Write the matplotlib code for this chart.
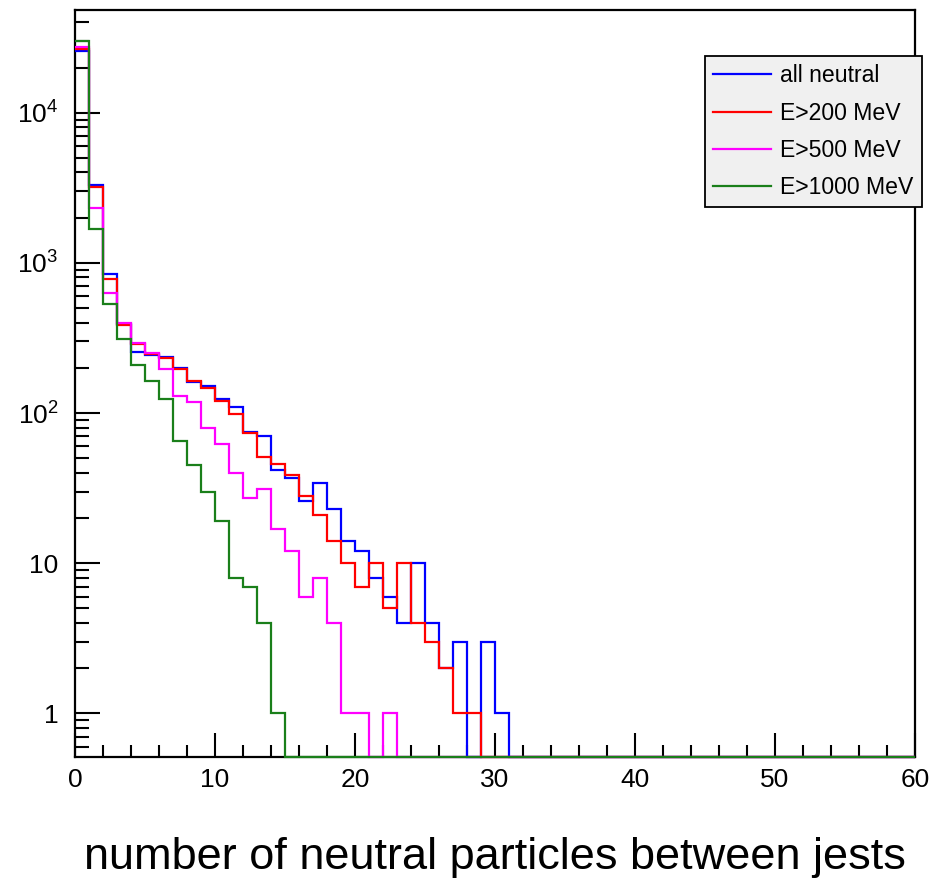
import numpy as np
import matplotlib
matplotlib.use("Agg")
import matplotlib.pyplot as plt
from matplotlib.ticker import FixedLocator, LogLocator, NullFormatter, FixedFormatter

plt.rcParams['font.family'] = ['Liberation Sans', 'DejaVu Sans']
plt.rcParams['mathtext.fontset'] = 'custom'
plt.rcParams['mathtext.rm'] = 'Liberation Sans'
plt.rcParams['mathtext.it'] = 'Liberation Sans:italic'

# ---- data: counts per unit bin, starting at 0 (bins beyond listed are empty)
n_bins = 60
bin_edges = np.arange(0, n_bins + 1)

all_neutral = [25800, 3320, 840, 392, 256, 243, 236, 200, 160, 151,
               124, 110, 75, 70, 42, 37, 26, 34, 23, 14,
               12, 8, 6, 4, 10, 4, 2, 3, 0, 3, 1]
e_gt_200 = [26700, 3215, 778, 388, 288, 248, 232, 196, 164, 146,
            121, 99, 74, 51, 46, 39, 28, 21, 14, 10,
            7, 10, 5, 10, 4, 3, 2, 1, 1]
e_gt_500 = [27500, 2320, 628, 396, 292, 252, 197, 129, 119, 80,
            62, 40, 27, 31, 17, 12, 6, 8, 4, 1,
            1, 0, 1]
e_gt_1000 = [30000, 1683, 533, 311, 209, 164, 124, 65, 45, 30,
             19, 8, 7, 4, 1]

series_labels = ["all neutral", "E>200 MeV", "E>500 MeV", "E>1000 MeV"]
series_colors = ["#0000ff", "#ff0000", "#ff00ff", "#1a7f1a"]
x_tick_values = [0, 10, 20, 30, 40, 50, 60]
y_tick_values = [1, 10, 100, 1000, 10000]
y_tick_labels = ["1", "10", r"$10^{2}$", r"$10^{3}$", r"$10^{4}$"]
x_title = "number of neutral particles between jests"

ymin, ymax = 0.513, 48300

fig = plt.figure(figsize=(9.44, 8.80), dpi=100)
ax = fig.add_axes([75/944, 1 - 757/880, 840/944, 747/880])

handles = []
for vals, lab, col in zip([all_neutral, e_gt_200, e_gt_500, e_gt_1000],
                          series_labels, series_colors):
    v = np.zeros(n_bins)
    v[:len(vals)] = vals
    # ROOT draws empty bins on the frame bottom
    v_draw = np.where(v > 0, v, ymin)
    ax.stairs(v_draw, bin_edges, baseline=None, color=col, lw=1.6,
              clip_on=False, label=lab, zorder=3)
    handles.append(plt.Line2D([], [], color=col, lw=1.6))

ax.set_yscale('log')
ax.set_xlim(0, 60)
ax.set_ylim(ymin, ymax)

ax.xaxis.set_major_locator(FixedLocator(x_tick_values))
ax.xaxis.set_minor_locator(FixedLocator(np.arange(0, 61, 2)))
ax.yaxis.set_major_locator(FixedLocator(y_tick_values))
ax.yaxis.set_major_formatter(FixedFormatter(y_tick_labels))
ax.yaxis.set_minor_locator(LogLocator(base=10, subs=np.arange(2, 10), numticks=20))
ax.yaxis.set_minor_formatter(NullFormatter())

ax.tick_params(axis='x', which='major', direction='in', length=17, width=1.5,
               labelsize=19, pad=8, top=False)
ax.tick_params(axis='x', which='minor', direction='in', length=8.5, width=1.5, top=False)
ax.tick_params(axis='y', which='major', direction='in', length=18, width=1.5,
               labelsize=19, pad=12, right=False)
ax.tick_params(axis='y', which='minor', direction='in', length=10, width=1.5, right=False)
for s in ax.spines.values():
    s.set_linewidth(1.6)

fig.text(495/944, 11/880, x_title, fontsize=32.5, ha='center', va='baseline')

leg = ax.legend(handles, series_labels, loc='upper left',
                bbox_to_anchor=(705/944, 1 - 56/880), bbox_transform=fig.transFigure,
                borderaxespad=0, fontsize=16.6, fancybox=False, framealpha=1,
                facecolor='#f0f0f0', edgecolor='black', handlelength=2.5,
                handletextpad=0.4, borderpad=0.36, labelspacing=0.62)
leg.get_frame().set_linewidth(1.3)
leg.set_zorder(5)

fig.savefig("out.png", dpi=100)
